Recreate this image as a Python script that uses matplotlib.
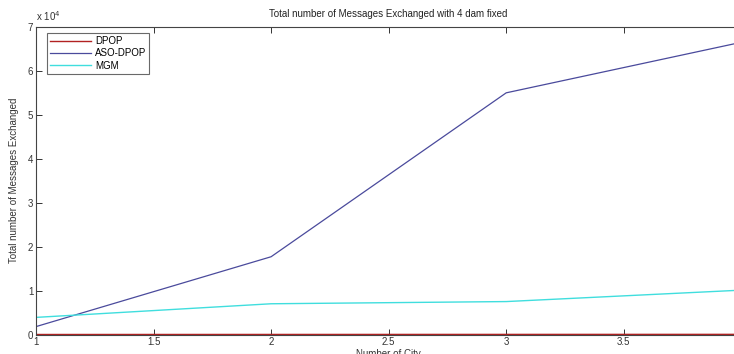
import numpy as np
import matplotlib
matplotlib.use("Agg")
import matplotlib.pyplot as plt
from matplotlib.ticker import FuncFormatter

plt.rcParams['font.family'] = ['Liberation Sans', 'DejaVu Sans']

# data
cities = [1, 2, 3, 4]
dpop = [10, 20, 30, 40]
aso_dpop = [1800, 17700, 55000, 66500]
mgm = [3900, 7000, 7500, 10100]

fig = plt.figure(figsize=(7.34, 3.54), dpi=100)
ax = fig.add_axes([0.049, 0.055, 0.961, 0.869])

ax.plot(cities, dpop, color='#b22222', lw=1.0, label='DPOP')
ax.plot(cities, aso_dpop, color='#4a4a9c', lw=0.9, label='ASO-DPOP')
ax.plot(cities, mgm, color='#40dede', lw=1.0, label='MGM')

ax.set_xlim(1, 4)
ax.set_ylim(0, 70000)
ax.set_xticks(np.arange(1, 4.01, 0.5))
ax.set_yticks(np.arange(0, 70001, 10000))
ax.xaxis.set_major_formatter(FuncFormatter(lambda v, p: '%g' % v))
ax.yaxis.set_major_formatter(FuncFormatter(lambda v, p: '%g' % (v / 1e4)))
ax.tick_params(direction='in', top=True, right=True, length=4, width=0.7,
               labelsize=7, colors='#333333', pad=2)
for s in ax.spines.values():
    s.set_color('#444444')
    s.set_linewidth(0.8)

ax.text(0.0, 1.012, r'x 10$^4$', transform=ax.transAxes, fontsize=7,
        color='#333333', ha='left', va='bottom')
ax.set_title('Total number of Messages Exchanged with 4 dam fixed',
             fontsize=7, color='#222222', pad=7)
ax.set_ylabel('Total number of Messages Exchanged', fontsize=7,
              color='#333333', labelpad=6)
ax.set_xlabel('Number of City', fontsize=7, color='#333333', labelpad=1)

leg = ax.legend(loc='upper left', bbox_to_anchor=(0.016, 0.98), fontsize=7,
                frameon=True, fancybox=False, handlelength=4.2,
                handletextpad=0.4, borderpad=0.3, labelspacing=0.25,
                borderaxespad=0)
leg.get_frame().set_edgecolor('#444444')
leg.get_frame().set_linewidth(0.8)

fig.savefig('out.png', dpi=100)
